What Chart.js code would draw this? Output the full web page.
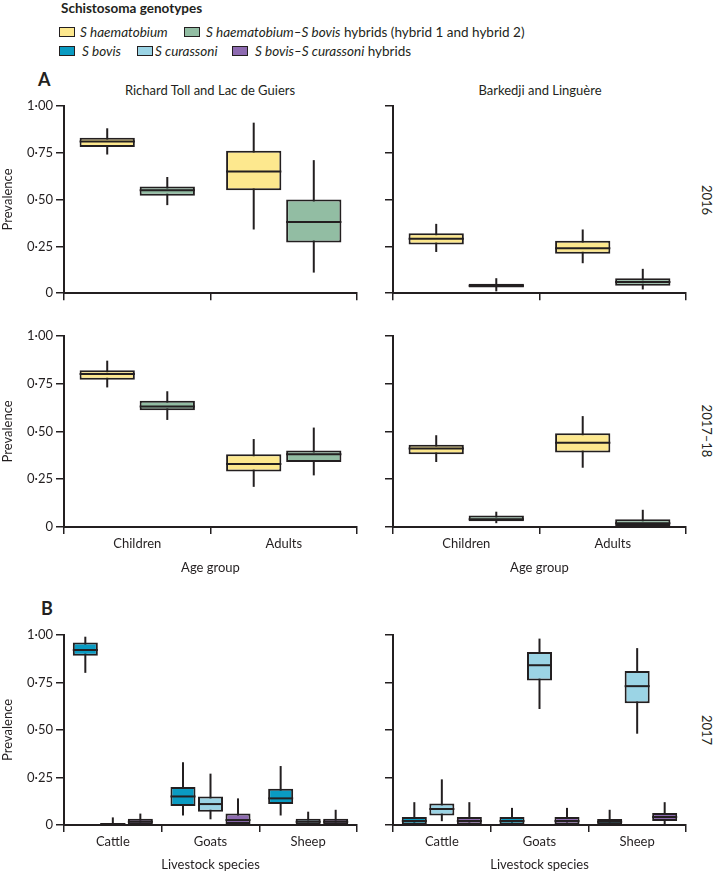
<!DOCTYPE html>
<html>
<head>
<meta charset="utf-8">
<script src="https://cdn.jsdelivr.net/npm/chart.js@4.4.1/dist/chart.umd.min.js"></script>
<style>
  body { margin: 0; background: #fff; font-family: Lato, sans-serif; color: #231f20; }
  #page { position: relative; width: 715px; height: 874px; overflow: hidden; }
  .abs { position: absolute; white-space: nowrap; }
  .sw { position: absolute; width: 14px; height: 8px; border: 1.5px solid #231f20; }
  .lg { position: absolute; font-size: 13.5px; line-height: 16px; white-space: nowrap; }
  .hd { position: absolute; font-size: 13px; transform: translateX(-50%); white-space: nowrap; }
  .rl { position: absolute; font-size: 13px; white-space: nowrap; transform: translate(-50%, -50%) rotate(90deg); }
  .pl { position: absolute; font-size: 18px; font-weight: bold; }
  canvas { position: absolute; }
</style>
</head>
<body>
<div id="page">
  <div class="abs" style="left:61px; top:0px; font-size:13.5px; font-weight:bold;">Schistosoma genotypes</div>

  <div class="sw" style="left:59px; top:27px; background:#fde88e;"></div>
  <div class="lg" style="left:80px; top:24px;"><i>S haematobium</i></div>
  <div class="sw" style="left:184px; top:27px; background:#92bda3;"></div>
  <div class="lg" style="left:206px; top:24px;"><i>S haematobium–S bovis</i> hybrids (hybrid 1 and hybrid 2)</div>

  <div class="sw" style="left:59px; top:46px; background:#0a9bc2;"></div>
  <div class="lg" style="left:82px; top:43px;"><i>S bovis</i></div>
  <div class="sw" style="left:137px; top:46px; background:#9bd4e5;"></div>
  <div class="lg" style="left:155px; top:43px;"><i>S curassoni</i></div>
  <div class="sw" style="left:232px; top:46px; background:#8e6bb1;"></div>
  <div class="lg" style="left:255px; top:43px;"><i>S bovis–S curassoni</i> hybrids</div>

  <div class="pl" style="left:38px; top:68px;">A</div>
  <div class="hd" style="left:210px; top:82px;">Richard Toll and Lac de Guiers</div>
  <div class="hd" style="left:540px; top:82px;">Barkedji and Linguère</div>
  <div class="pl" style="left:41px; top:597px;">B</div>

  <div class="rl" style="left:707px; top:200px;">2016</div>
  <div class="rl" style="left:707px; top:431px;">2017–18</div>
  <div class="rl" style="left:707px; top:730px;">2017</div>

  <canvas id="a1" width="362" height="209" style="left:0px; top:95px;"></canvas>
  <canvas id="a2" width="342" height="209" style="left:350px; top:95px;"></canvas>
  <canvas id="a3" width="362" height="251" style="left:0px; top:325px;"></canvas>
  <canvas id="a4" width="342" height="251" style="left:350px; top:325px;"></canvas>
  <canvas id="b1" width="362" height="249" style="left:0px; top:624px;"></canvas>
  <canvas id="b2" width="342" height="249" style="left:350px; top:624px;"></canvas>
</div>

<script>
// categories and tick labels
var ageGroups = ['Children', 'Adults'];
var livestock = ['Cattle', 'Goats', 'Sheep'];
var yTicks = [0, 0.25, 0.5, 0.75, 1];

// each entry: [min, q1, median, q3, max]
// 2016, Richard Toll and Lac de Guiers
var rt16Haem = [[0.74, 0.78, 0.81, 0.83, 0.88], [0.34, 0.55, 0.65, 0.76, 0.91]];
var rt16Hyb  = [[0.47, 0.52, 0.55, 0.57, 0.62], [0.11, 0.27, 0.38, 0.50, 0.71]];
// 2016, Barkedji and Linguère
var bk16Haem = [[0.22, 0.26, 0.29, 0.32, 0.37], [0.16, 0.21, 0.24, 0.28, 0.34]];
var bk16Hyb  = [[0.01, 0.03, 0.04, 0.05, 0.08], [0.02, 0.04, 0.06, 0.08, 0.13]];
// 2017-18, Richard Toll and Lac de Guiers
var rt17Haem = [[0.73, 0.77, 0.80, 0.82, 0.87], [0.21, 0.29, 0.33, 0.38, 0.46]];
var rt17Hyb  = [[0.56, 0.61, 0.63, 0.66, 0.71], [0.27, 0.34, 0.38, 0.40, 0.52]];
// 2017-18, Barkedji and Linguère
var bk17Haem = [[0.34, 0.38, 0.41, 0.43, 0.48], [0.31, 0.39, 0.44, 0.49, 0.58]];
var bk17Hyb  = [[0.02, 0.03, 0.04, 0.06, 0.08], [0, 0.005, 0.02, 0.04, 0.09]];
// livestock 2017, Richard Toll and Lac de Guiers
var rtBovis = [[0.80, 0.89, 0.92, 0.96, 0.99], [0.05, 0.10, 0.15, 0.20, 0.33], [0.05, 0.11, 0.14, 0.19, 0.31]];
var rtCur   = [[0, 0, 0.005, 0.01, 0.04], [0.03, 0.07, 0.11, 0.15, 0.27], [0, 0.003, 0.017, 0.033, 0.07]];
var rtBxC   = [[0, 0.003, 0.017, 0.033, 0.06], [0, 0.005, 0.026, 0.06, 0.14], [0, 0.003, 0.017, 0.033, 0.08]];
// livestock 2017, Barkedji and Linguère
var bkBovis = [[0, 0.003, 0.021, 0.042, 0.12], [0, 0.003, 0.021, 0.042, 0.09], [0, 0.003, 0.017, 0.031, 0.08]];
var bkCur   = [[0.02, 0.05, 0.084, 0.113, 0.24], [0.61, 0.76, 0.84, 0.91, 0.98], [0.48, 0.64, 0.73, 0.81, 0.93]];
var bkBxC   = [[0, 0.003, 0.021, 0.042, 0.12], [0, 0.003, 0.021, 0.042, 0.09], [0.005, 0.021, 0.042, 0.063, 0.12]];

var ink = '#231f20';
var yellow = '#fde88e', sage = '#92bda3', blue = '#0a9bc2', lightBlue = '#9bd4e5', purple = '#8e6bb1';

// whiskers behind the boxes, medians on top
var boxPlot = {
  id: 'boxPlot',
  beforeDatasetsDraw: function(chart) {
    var ctx = chart.ctx, y = chart.scales.y;
    chart.data.datasets.forEach(function(ds, i) {
      chart.getDatasetMeta(i).data.forEach(function(bar, j) {
        var s = ds.stats[j];
        ctx.save();
        ctx.strokeStyle = ink;
        ctx.lineWidth = 2;
        ctx.beginPath();
        ctx.moveTo(bar.x, y.getPixelForValue(s[0]));
        ctx.lineTo(bar.x, y.getPixelForValue(s[4]));
        ctx.stroke();
        ctx.restore();
      });
    });
  },
  afterDatasetsDraw: function(chart) {
    var ctx = chart.ctx, y = chart.scales.y;
    chart.data.datasets.forEach(function(ds, i) {
      chart.getDatasetMeta(i).data.forEach(function(bar, j) {
        var m = y.getPixelForValue(ds.stats[j][2]);
        ctx.save();
        ctx.strokeStyle = ink;
        ctx.lineWidth = 2;
        ctx.beginPath();
        ctx.moveTo(bar.x - bar.width / 2, m);
        ctx.lineTo(bar.x + bar.width / 2, m);
        ctx.stroke();
        ctx.restore();
      });
    });
  }
};

function box(stats, color) {
  return {
    stats: stats,
    data: stats.map(function(s) { return [s[1], s[3]]; }),
    backgroundColor: color,
    borderColor: ink,
    borderWidth: 2,
    borderSkipped: false
  };
}

function fmt(v) {
  return v === 0 ? '0' : v.toFixed(2).replace('.', '·');
}

function makePanel(id, labels, datasets, o) {
  new Chart(document.getElementById(id), {
    type: 'bar',
    data: { labels: labels, datasets: datasets },
    plugins: [boxPlot],
    options: {
      responsive: false,
      animation: false,
      layout: { padding: { top: 10, right: o.right, left: 0, bottom: 0 } },
      plugins: { legend: { display: false }, tooltip: { enabled: false } },
      datasets: { bar: { categoryPercentage: o.cp, barPercentage: o.bp } },
      scales: {
        x: {
          offset: true,
          grid: { offset: true, drawOnChartArea: false, tickLength: 7, color: ink, lineWidth: 1.5 },
          border: { color: ink, width: 2 },
          ticks: { display: o.xLabels, color: ink, padding: 2, font: { family: 'Lato', size: 13 } },
          title: { display: !!o.xTitle, text: o.xTitle || '', color: ink, padding: { top: 0, bottom: 0 }, font: { family: 'Lato', size: 13 } },
          afterFit: function(scale) { scale.height = o.xHeight; }
        },
        y: {
          min: 0,
          max: 1,
          afterBuildTicks: function(scale) { scale.ticks = yTicks.map(function(v) { return { value: v }; }); },
          grid: { drawOnChartArea: false, tickLength: 8, color: ink, lineWidth: 1.5 },
          border: { color: ink, width: 2 },
          ticks: {
            color: ink, padding: 3, font: { family: 'Lato', size: 13 },
            callback: function(v) { return o.yLabels ? fmt(v) : ''; }
          },
          title: { display: o.yLabels, text: 'Prevalence', color: ink, padding: { top: 0, bottom: 0 }, font: { family: 'Lato', size: 13 } },
          afterFit: function(scale) { scale.width = o.yWidth; }
        }
      }
    }
  });
}

var leftAge = { right: 5, cp: 0.82, bp: 0.92, yLabels: true, yWidth: 64 };
var rightAge = { right: 6, cp: 0.82, bp: 0.92, yLabels: false, yWidth: 43 };

makePanel('a1', ageGroups, [box(rt16Haem, yellow), box(rt16Hyb, sage)],
  Object.assign({}, leftAge, { xLabels: false, xHeight: 8 }));
makePanel('a2', ageGroups, [box(bk16Haem, yellow), box(bk16Hyb, sage)],
  Object.assign({}, rightAge, { xLabels: false, xHeight: 8 }));
makePanel('a3', ageGroups, [box(rt17Haem, yellow), box(rt17Hyb, sage)],
  Object.assign({}, leftAge, { xLabels: true, xHeight: 49, xTitle: 'Age group' }));
makePanel('a4', ageGroups, [box(bk17Haem, yellow), box(bk17Hyb, sage)],
  Object.assign({}, rightAge, { xLabels: true, xHeight: 49, xTitle: 'Age group' }));
makePanel('b1', livestock, [box(rtBovis, blue), box(rtCur, lightBlue), box(rtBxC, purple)],
  { right: 5, cp: 0.845, bp: 0.91, yLabels: true, yWidth: 64, xLabels: true, xHeight: 48, xTitle: 'Livestock species' });
makePanel('b2', livestock, [box(bkBovis, blue), box(bkCur, lightBlue), box(bkBxC, purple)],
  { right: 6, cp: 0.845, bp: 0.91, yLabels: false, yWidth: 43, xLabels: true, xHeight: 48, xTitle: 'Livestock species' });
</script>
</body>
</html>
